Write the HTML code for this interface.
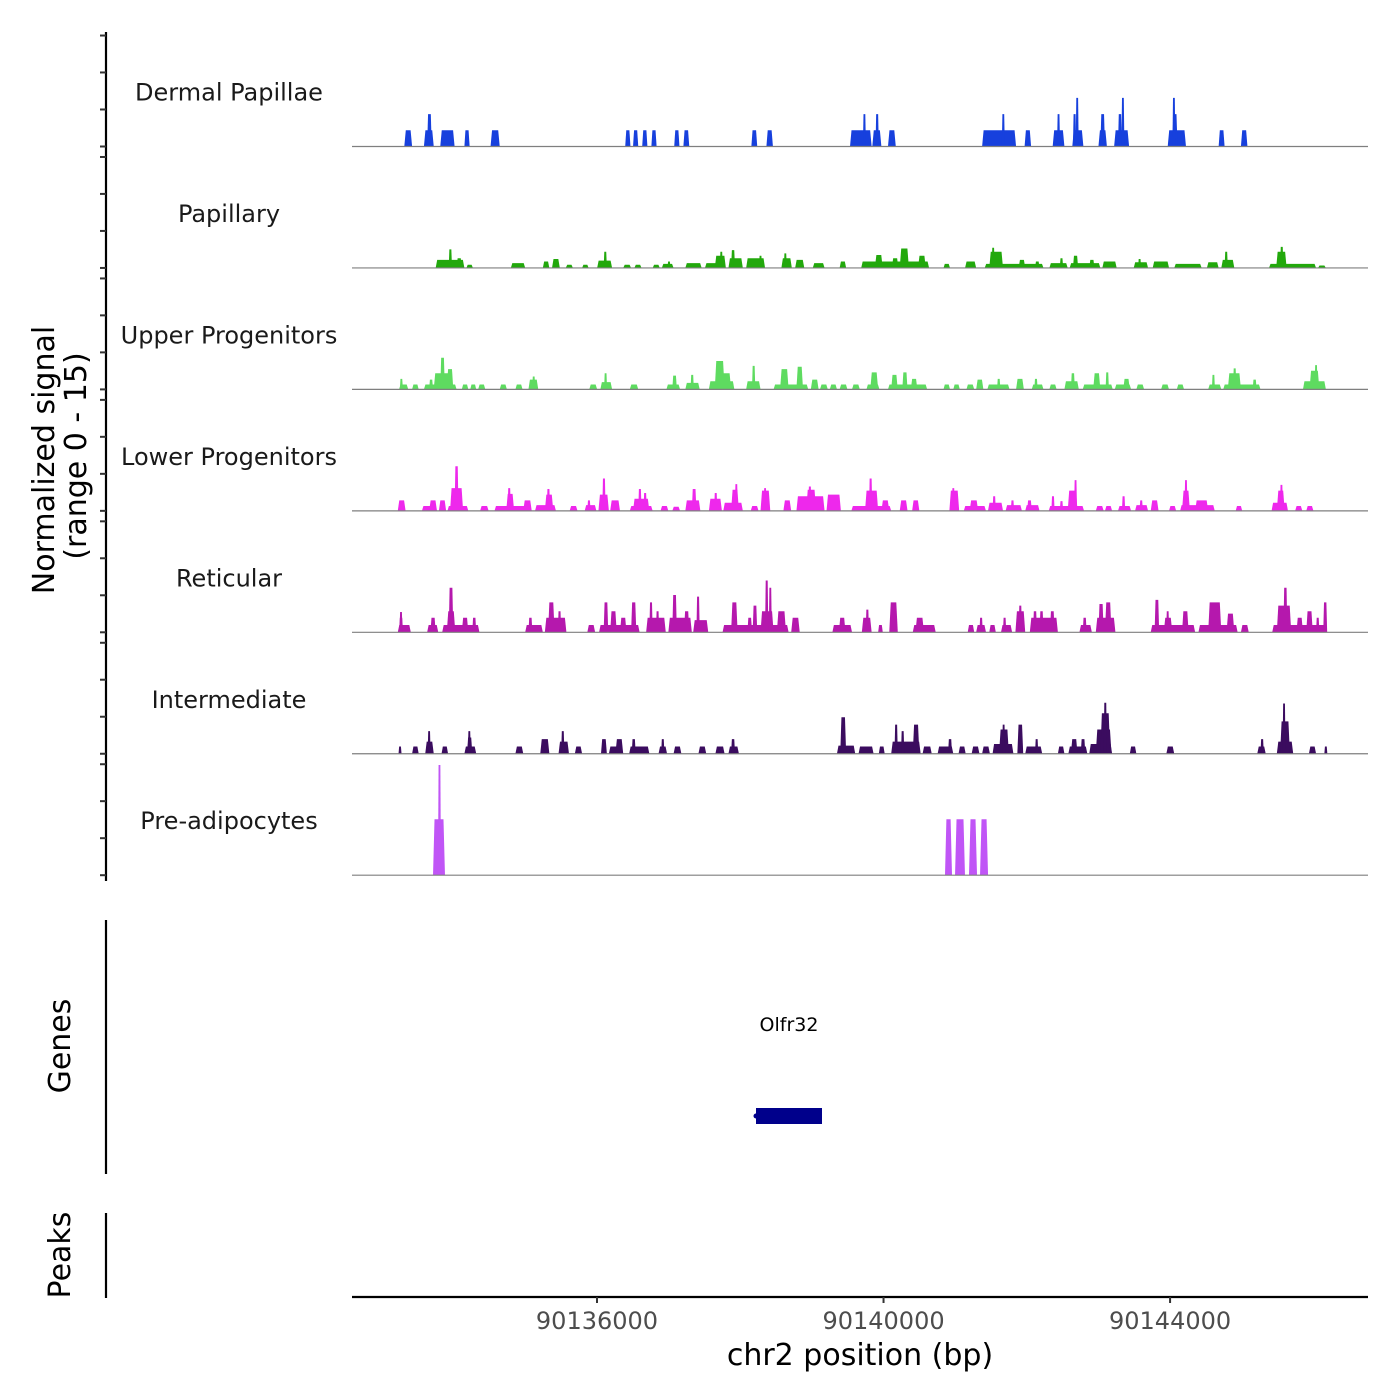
<!DOCTYPE html>
<html><head><meta charset="utf-8"><style>
body{margin:0;background:#fff;}
svg{display:block;font-family:"DejaVu Sans","Liberation Sans",sans-serif;}
</style></head><body>
<svg id="chart" width="1400" height="1400" viewBox="0 0 1400 1400" xmlns="http://www.w3.org/2000/svg">
<g id="tracks"></g>
<g id="yaxis"></g>
<text transform="translate(54,460) rotate(-90)" text-anchor="middle" font-size="30" fill="#000">Normalized signal</text>
<text transform="translate(86,456) rotate(-90)" text-anchor="middle" font-size="30" fill="#000">(range 0 - 15)</text>
<line x1="106" y1="920" x2="106" y2="1174" stroke="#000" stroke-width="2.2"/>
<text transform="translate(70,1046) rotate(-90)" text-anchor="middle" font-size="30" fill="#000">Genes</text>
<text x="789" y="1031" text-anchor="middle" font-size="19" fill="#000">Olfr32</text>
<rect x="756" y="1108" width="66" height="16" fill="#00008b"/>
<circle cx="756" cy="1116" r="2.5" fill="#00008b"/>
<line x1="106" y1="1213" x2="106" y2="1298" stroke="#000" stroke-width="2.2"/>
<text transform="translate(70,1255) rotate(-90)" text-anchor="middle" font-size="30" fill="#000">Peaks</text>
<g id="xaxis"></g>
<text x="860" y="1365" text-anchor="middle" font-size="30" fill="#000">chr2 position (bp)</text>
</svg>
<script>
const regionStart = 90132580;
const regionEnd = 90146763;
const xTicks = [90136000, 90140000, 90144000];
const xTickLabels = ["90136000", "90140000", "90144000"];
const trackNames = ["Dermal Papillae","Papillary","Upper Progenitors","Lower Progenitors","Reticular","Intermediate","Pre-adipocytes"];
const trackColors = ["#1740dd","#22a80c","#5edb60","#ee28ec","#b518ad","#3b0c5f","#c055f6"];
const yTickValues = [0, 4.57, 9.14, 13.7];
// blocks: [startOffsetBp, endOffsetBp, signal]
const dermalPapillae = [[730,839,2],[1004,1141,2],[1049,1113,4],[1232,1432,2],[1569,1642,2],[1934,2062,2],[3814,3887,2],[3923,3996,2],[4051,4124,2],[4179,4252,2],[4498,4571,2],[4626,4708,2],[5575,5657,2],[5785,5876,2],[6952,7254,2],[7135,7171,4],[7263,7390,2],[7308,7354,4],[7482,7591,2],[8796,9270,2],[9078,9106,4],[9389,9480,2],[9781,9945,2],[9845,9881,4],[10055,10210,2],[10064,10110,4],[10110,10137,6],[10420,10538,2],[10447,10511,4],[10639,10848,2],[10693,10748,4],[10748,10775,6],[11387,11642,2],[11451,11524,4],[11460,11487,6],[12098,12181,2],[12409,12500,2]];
const papillary = [[1168,1569,1],[1350,1396,2.3],[1460,1533,1.2],[1597,1688,0.4],[2217,2418,0.6],[2664,2755,0.8],[2792,2901,1.1],[2984,3084,0.4],[3212,3303,0.4],[3422,3631,0.9],[3513,3558,2],[3786,3896,0.4],[3942,4042,0.4],[4197,4297,0.4],[4325,4489,0.5],[4407,4443,0.8],[4653,4881,0.6],[4927,5109,0.6],[5064,5219,1.5],[5137,5173,2],[5255,5456,1.2],[5292,5347,2.2],[5502,5766,1.2],[5684,5721,1.5],[5994,6140,1.2],[6031,6067,1.8],[6186,6314,1],[6432,6597,0.6],[6807,6898,0.8],[7108,8056,0.8],[7299,7409,1.6],[7536,7628,1.2],[7646,7774,2.4],[7901,8011,1.5],[8257,8348,0.5],[8558,8713,0.8],[8832,9653,0.5],[8896,9088,2],[8932,8969,2.5],[9306,9398,1],[9535,9598,0.8],[9735,9991,0.6],[9881,9927,1.2],[10018,10447,0.6],[10064,10137,1.5],[10292,10365,1],[10474,10675,0.8],[10912,11113,0.7],[10976,11013,1.1],[11177,11406,0.8],[11478,11861,0.5],[11934,12098,0.7],[12135,12317,1],[12181,12226,2],[12801,13458,0.5],[12901,13047,2],[12956,13002,2.6],[13485,13595,0.3]];
const upperProgenitors = [[657,785,0.6],[675,703,1.3],[839,931,0.6],[1004,1460,0.6],[1077,1131,1.2],[1141,1369,2],[1232,1296,3.9],[1323,1414,2.5],[1533,1624,0.6],[1651,1734,0.6],[1761,1861,0.6],[2062,2162,0.6],[2281,2381,0.6],[2463,2600,1.2],[2518,2555,1.6],[3312,3422,0.6],[3467,3631,0.9],[3522,3558,2],[3878,3996,0.6],[4389,4580,0.6],[4471,4535,1.7],[4653,4854,0.8],[4726,4772,1.8],[4982,5338,1],[5064,5201,3.5],[5155,5292,2],[5502,5703,1],[5584,5630,2.9],[5885,6369,0.6],[5976,6095,2.5],[6204,6296,2.8],[6405,6514,1.2],[6533,6642,0.6],[6670,6770,0.6],[6807,6916,0.6],[6980,7089,0.6],[7181,7363,0.6],[7235,7345,2.1],[7482,8029,0.6],[7527,7618,1.8],[7682,7755,2.1],[7801,7892,1.3],[8257,8348,0.6],[8394,8485,0.6],[8577,8686,0.6],[8713,8814,1.2],[8869,9179,0.6],[9005,9051,1.3],[9270,9379,1.3],[9489,9653,0.6],[9525,9571,1.3],[9735,9836,0.6],[9945,10146,1],[10036,10091,2],[10201,10620,0.6],[10347,10447,2],[10520,10566,2.1],[10648,10876,0.6],[10766,10858,1.3],[10949,11058,0.6],[11295,11405,0.6],[11514,11615,0.6],[11952,12135,0.6],[12007,12043,1.8],[12162,12682,0.6],[12226,12409,2],[12299,12345,2.6],[12573,12628,1.2],[13275,13595,1],[13367,13504,2.3],[13440,13476,3]];
const lowerProgenitors = [[639,748,1.3],[976,1186,0.6],[1077,1186,1.3],[1213,1314,1.3],[1332,1624,0.6],[1369,1551,2.8],[1432,1487,5.5],[1788,1907,0.6],[1989,2509,0.6],[2153,2263,2.1],[2172,2217,2.8],[2390,2509,1.3],[2555,2847,0.7],[2692,2810,2],[2719,2765,2.7],[3038,3148,0.6],[3248,3412,0.7],[3285,3330,1.3],[3440,3586,2],[3494,3540,4],[3604,3741,1.3],[3878,4197,0.6],[3923,4151,1.5],[3996,4042,2.7],[4069,4115,2.2],[4307,4416,0.6],[4471,4580,0.5],[4653,4863,1.3],[4744,4808,2.7],[4982,5164,1.5],[5055,5100,2.2],[5183,5456,1],[5292,5401,2.6],[5347,5383,3.3],[5566,5675,0.6],[5703,5839,2.5],[5748,5785,2.8],[6022,6131,1.3],[6204,6597,1.8],[6341,6478,2.6],[6369,6414,3],[6624,6825,2],[6971,7527,0.6],[7162,7345,2.5],[7217,7263,4],[7390,7500,1.3],[7646,7755,1.3],[7819,7920,1.3],[8339,8476,2.5],[8376,8412,2.8],[8540,8850,0.6],[8622,8741,1.3],[8878,9088,1],[8942,8987,1.8],[9124,9352,0.7],[9197,9243,1.3],[9398,9598,0.7],[9425,9490,1.3],[9726,10219,0.6],[9763,9808,1.8],[9881,9927,1.2],[9991,10128,2.5],[10082,10119,3.8],[10383,10493,0.6],[10511,10611,0.6],[10693,10876,0.6],[10748,10794,1.8],[10931,11113,0.7],[10994,11040,1.3],[11150,11259,1.3],[11405,11505,0.6],[11560,12044,0.7],[11587,11697,2.5],[11624,11660,3.8],[11770,11952,1.3],[12336,12427,0.6],[12837,13066,1],[12910,13020,2.5],[12956,12993,3.2],[13166,13266,0.6],[13321,13421,0.6]];
const reticular = [[639,821,0.9],[657,712,1.8],[675,693,2.5],[1049,1204,0.9],[1095,1168,1.8],[1259,1779,0.9],[1323,1442,2.6],[1350,1414,5.5],[1533,1624,1.8],[1679,1734,1.8],[2418,2664,0.9],[2463,2518,1.8],[2692,2993,1.8],[2737,2828,3.7],[2874,2920,2.6],[3285,3394,0.9],[3449,4015,0.9],[3513,3577,3.7],[3604,3695,2.6],[3741,3832,1.8],[3896,3969,3.7],[4106,4380,1.8],[4151,4197,3.7],[4243,4288,2.6],[4416,4744,1.8],[4471,4535,4.6],[4635,4708,2.6],[4763,4973,1.5],[4808,4854,4.4],[5173,6095,0.9],[5292,5383,3.7],[5520,5584,1.8],[5593,5657,3.3],[5703,5885,2.6],[5766,5812,6.4],[5821,5858,5.5],[5931,6058,2.6],[6131,6250,1.8],[6706,6980,0.9],[6797,6889,1.8],[7117,7254,1.8],[7171,7217,2.8],[7345,7409,0.9],[7500,7619,3.7],[7828,8148,0.9],[7865,7984,1.8],[8595,8686,0.9],[8713,8850,0.9],[8759,8805,1.8],[8896,8987,0.9],[9060,9215,0.9],[9087,9133,1.8],[9261,9398,2.6],[9306,9352,3.3],[9462,9854,1.8],[9507,9562,2.6],[9598,9653,2.6],[9744,9808,2.6],[10155,10328,0.9],[10201,10255,1.8],[10383,10657,1.8],[10420,10493,3.5],[10511,10602,3.7],[11150,11770,0.9],[11204,11268,4],[11332,11451,1.8],[11368,11405,2.6],[11587,11679,2.6],[11816,12363,0.9],[11952,12135,3.7],[12208,12317,2.3],[12409,12518,0.9],[12846,13613,0.9],[12910,13111,3.3],[13002,13057,5.5],[13184,13275,1.8],[13321,13412,2.6],[13458,13504,1.8],[13558,13613,3.7]];
const intermediate = [[657,684,0.9],[839,931,0.9],[1022,1141,1.5],[1058,1095,2.8],[1250,1341,0.9],[1569,1734,0.9],[1606,1679,2],[1624,1651,2.8],[2281,2391,0.9],[2628,2755,1.8],[2883,3029,1.5],[2920,2965,2.8],[3111,3212,0.9],[3476,3558,1.8],[3586,3786,0.9],[3677,3786,1.8],[3869,4151,0.9],[3905,3960,1.8],[4279,4398,0.9],[4316,4361,1.8],[4489,4598,0.9],[4836,4945,0.9],[5073,5201,0.9],[5255,5401,0.9],[5292,5347,1.8],[6770,7025,1],[6816,6898,4.5],[7071,7281,0.9],[7354,7436,0.9],[7527,7938,1.5],[7573,7619,3.6],[7664,7710,2.8],[7828,7920,3.6],[7965,8093,0.9],[8175,8394,0.9],[8321,8376,1.8],[8467,8567,0.9],[8650,8759,0.9],[8796,8905,0.9],[8942,9233,1.2],[9033,9170,3],[9078,9115,3.6],[9288,9370,3.6],[9398,9635,0.9],[9535,9580,1.8],[9854,9945,0.9],[10000,10265,0.9],[10036,10128,1.8],[10173,10237,1.8],[10292,10611,1.2],[10383,10602,3],[10447,10584,5],[10493,10538,6.3],[10858,10949,0.9],[11368,11478,0.9],[12637,12755,0.9],[12682,12728,1.8],[12910,13139,1.5],[12956,13093,4],[12993,13029,6.2],[13358,13458,0.9],[13576,13613,0.9]];
const preAdipocytes = [[1131,1298,6.9],[1200,1242,13.6],[8278,8376,6.9],[8418,8557,6.9],[8613,8725,6.9],[8767,8879,6.9]];
const trackData = [dermalPapillae,papillary,upperProgenitors,lowerProgenitors,reticular,intermediate,preAdipocytes];

const NS = "http://www.w3.org/2000/svg";
const plotLeft = 352, plotRight = 1368;
const firstBaseline = 146.5, trackStep = 121.45, pxPerUnit = 8.1;
function xScale(bp){ return plotLeft + (bp - regionStart) / (regionEnd - regionStart) * (plotRight - plotLeft); }
function xOff(off){ return xScale(regionStart + off); }
function baseline(i){ return firstBaseline + i * trackStep; }
function yScale(i, v){ return baseline(i) - v * pxPerUnit; }
function mk(tag, attrs){ const e = document.createElementNS(NS, tag); for (const k in attrs) e.setAttribute(k, attrs[k]); return e; }

const tracks = document.getElementById('tracks');
trackData.forEach((blocks, i) => {
  const g = mk('g', {});
  
  
  const lbl = mk('text', {x: 229, y: baseline(i) - 46, 'text-anchor': 'middle', 'font-size': 24, fill: '#1a1a1a'});
  lbl.textContent = trackNames[i];
  
  
  g.appendChild(lbl);
  blocks.forEach(b => {
    let x0 = xOff(b[0]), x1 = xOff(b[1]);
    if (x1 - x0 < 3) { const c = (x0 + x1) / 2; x0 = c - 1.5; x1 = c + 1.5; }
    const w = x1 - x0;
    const t = Math.min(1.5, w * 0.2);
    const yb = baseline(i), yt = yScale(i, b[2]);
    const p = mk('polygon', {points: `${x0},${yb} ${x0 + t},${yt} ${x1 - t},${yt} ${x1},${yb}`, fill: trackColors[i]});
    
    
    g.appendChild(p);
  });
  const bl = mk('line', {x1: plotLeft, x2: plotRight, y1: baseline(i), y2: baseline(i), stroke: '#7f7f7f', 'stroke-width': 1.2});
  
  
  g.appendChild(bl);
  tracks.appendChild(g);
});

const yaxis = document.getElementById('yaxis');
const yl = mk('line', {x1: 106, x2: 106, y1: 32, y2: 881, stroke: '#000', 'stroke-width': 2.2});


yaxis.appendChild(yl);
trackData.forEach((_, i) => {
  yTickValues.forEach(v => {
    const y = baseline(i) - v * 8.1;
    const tk = mk('line', {x1: 100, x2: 106, y1: y, y2: y, stroke: '#333', 'stroke-width': 2});
    
    
    yaxis.appendChild(tk);
  });
});

const xaxis = document.getElementById('xaxis');
const xl = mk('line', {x1: plotLeft, x2: plotRight, y1: 1297, y2: 1297, stroke: '#000', 'stroke-width': 2.2});


xaxis.appendChild(xl);
xTicks.forEach((v, k) => {
  const x = xScale(v);
  const tk = mk('line', {x1: x, x2: x, y1: 1297, y2: 1303, stroke: '#333', 'stroke-width': 2});
  
  
  xaxis.appendChild(tk);
  const t = mk('text', {x: x, y: 1329, 'text-anchor': 'middle', 'font-size': 24, fill: '#4d4d4d'});
  t.textContent = xTickLabels[k];
  
  
  xaxis.appendChild(t);
});
</script>
</body></html>
